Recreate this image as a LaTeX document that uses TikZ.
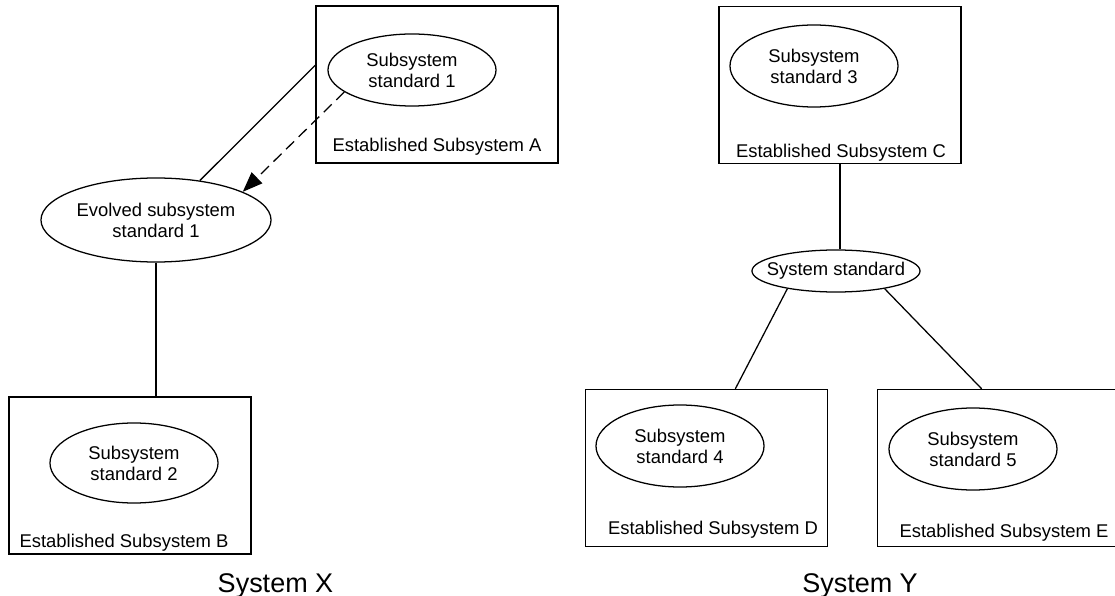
\documentclass[tikz,border=0pt]{standalone}
\usepackage{fontspec}
\setmainfont{Liberation Sans}
\usetikzlibrary{arrows.meta, shapes.geometric, positioning}

\begin{document}
\begin{tikzpicture}[x=0.025cm, y=-0.025cm, line width=0.9pt,
		every node/.style={font=\fontsize{13.1}{15}\selectfont},
		sysbox/.style={draw, rectangle, inner sep=0, minimum width=6.05cm, minimum height=3.925cm},
		stdell/.style={draw, ellipse, inner sep=0, align=center, minimum width=4.2cm, minimum height=2cm},
		title/.style={anchor=base, font=\fontsize{19.2}{23}\selectfont}]
			\useasboundingbox (0,0) rectangle (1115,596);
			% system X
			\node[sysbox] (boxA) at (437,84.5) {};
			\node[stdell, minimum height=1.8cm] (ssA) at (412,70) {Subsystem\\standard 1};
			\node[anchor=base] (labA) at (437,152) {Established Subsystem A};
			\node[stdell, minimum width=5.75cm, minimum height=2.1cm] (evolved) at (156,220) {Evolved subsystem\\standard 1};
			\node[sysbox] (boxB) at (130,475.5) {};
			\node[stdell] (ssB) at (134,463) {Subsystem\\standard 2};
			\node[anchor=base] (labB) at (124,547) {Established Subsystem B};
			\node[title] (sysX) at (275.5,592) {System X};
			\draw (boxA.171) -- (evolved.42);
			\draw[dash pattern=on 0.28cm off 0.16cm, -{Triangle[length=0.5cm, width=0.38cm]}] (ssA.198) -- (evolved.18);
			\draw (evolved.south) -- (evolved.south |- boxB.north);
			% system Y
			\node[sysbox] (boxC) at (840,85) {};
			\node[stdell, minimum height=2.05cm] (ssC) at (814,66) {Subsystem\\standard 3};
			\node[anchor=base] (labC) at (841,158) {Established Subsystem C};
			\node[stdell, inner xsep=-0.35cm, minimum height=1.05cm] (sysstd) at (836,271) {System standard};
			\node[sysbox] (boxD) at (706.5,468) {};
			\node[stdell, minimum height=2.05cm] (ssD) at (680,446) {Subsystem\\standard 4};
			\node[anchor=base] (labD) at (713,534) {Established Subsystem D};
			\node[sysbox] (boxE) at (998.5,468) {};
			\node[stdell, minimum height=2.05cm] (ssE) at (973,449) {Subsystem\\standard 5};
			\node[anchor=base] (labE) at (1004,537) {Established Subsystem E};
			\node[title] (sysY) at (860,592) {System Y};
			\draw (boxC.south) -- (boxC.south |- sysstd.north);
			\draw (sysstd.200) -- (boxD.70);
			\draw (sysstd.-20) -- (boxE.102);
		\end{tikzpicture}
\end{document}
